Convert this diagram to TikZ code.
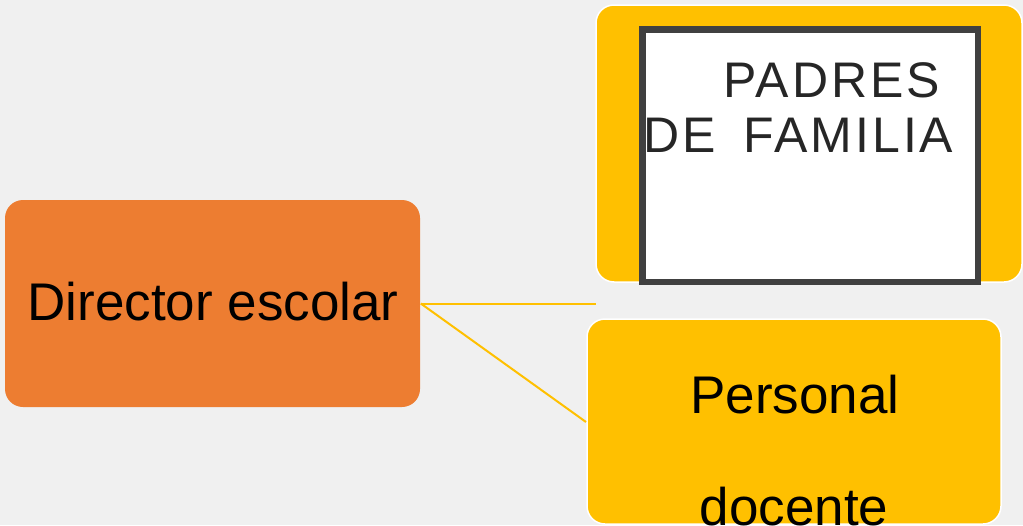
\documentclass[tikz,border=0pt]{standalone}
\usepackage{fontspec}
\setmainfont{Liberation Sans}
\definecolor{bgc}{HTML}{F0F0F0}
\definecolor{dirorange}{HTML}{ED7D31}
\definecolor{yel}{HTML}{FFC000}
\definecolor{dgray}{HTML}{404040}
\definecolor{txtgray}{HTML}{262626}
\begin{document}
\begin{tikzpicture}[x=1pt,y=-1pt,
  box/.style={rectangle, rounded corners=18pt, inner sep=0pt, line width=1.5pt},
  link/.style={draw=yel, line width=2pt},
  bigtxt/.style={inner sep=0pt, font=\fontsize{53}{53}\selectfont, text=black},
  captxt/.style={inner sep=0pt, anchor=base west, text=txtgray,
    font=\fontsize{50}{50}\selectfont\addfontfeatures{LetterSpace=6}}]
\fill[bgc] (0,0) rectangle (1023,525);
\useasboundingbox (0,0) rectangle (1023,525);
\clip (0,0) rectangle (1023,525);
% Director
\node[box, fill=dirorange, draw=none, minimum width=415pt, minimum height=207pt] (dir) at (212.5,303.5) {};
\node[bigtxt, anchor=base] (dirtxt) at (213,320) {Director escolar};
% Padres de familia
\node[box, fill=yel, draw=white, minimum width=426pt, minimum height=277pt] (padresbox) at (809,143.5) {};
\node[rectangle, fill=white, draw=dgray, line width=6.5pt, inner sep=0pt,
      minimum width=335.5pt, minimum height=252.5pt] (padresin) at (810,155.5) {};
\node[captxt] (padres1) at (723,97) {PADRES};
\node[captxt] (padres2) at (643,152) {DE\hspace{11pt} FAMILIA};
% Personal docente
\node[box, fill=yel, draw=white, minimum width=414pt, minimum height=205pt] (perbox) at (794,421.5) {};
\node[bigtxt, anchor=base] (per1) at (795,413) {Personal};
\node[bigtxt, anchor=base] (per2) at (794,525) {docente};
% connectors
\coordinate (padresend) at (596,303.5);
\coordinate (perend) at (586,422);
\draw[link] (dir.east) -- (padresend);
\draw[link] (dir.east) -- (perend);
\end{tikzpicture}
\end{document}
